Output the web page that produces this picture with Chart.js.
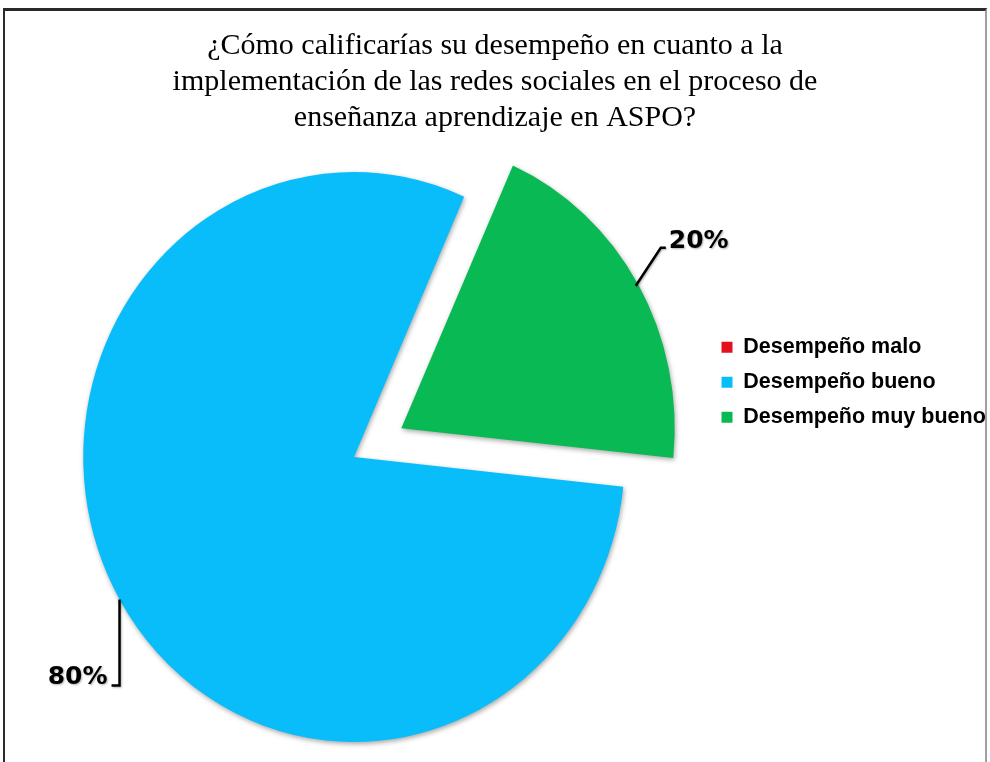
<!DOCTYPE html>
<html lang="es">
<head>
<meta charset="utf-8">
<title>Desempeño en redes sociales - ASPO</title>
<script src="https://cdn.jsdelivr.net/npm/chart.js@4.4.1/dist/chart.umd.min.js"></script>
<style>
  html, body { margin: 0; padding: 0; background: #fff; }
  #wrap { position: relative; width: 990px; height: 762px; overflow: hidden; }
  #grafico { position: absolute; left: 0; top: 0; }
  #marco {
    position: absolute; left: 3px; top: 8px; width: 984px; height: 800px;
    box-sizing: border-box; pointer-events: none;
    border: 2px solid #2a2a2a; border-top-width: 3px; border-right-color: #a0a0a0;
  }
</style>
</head>
<body>
<div id="wrap">
  <canvas id="grafico" width="990" height="762"></canvas>
  <div id="marco"></div>
</div>
<script>
// datos del gráfico
const categorias = ['Desempeño malo', 'Desempeño bueno', 'Desempeño muy bueno'];
const porcentajes = [0, 80, 20];
const colores = ['#E3111B', '#08BDF9', '#09B953'];
const tituloLineas = [
  '¿Cómo calificarías su desempeño en cuanto a la',
  'implementación de las redes sociales en el proceso de',
  'enseñanza aprendizaje en ASPO?'
];

// el pastel original es un poco más alto que ancho
const ASPECTO_X = 0.95;

// sombra suave y achatado horizontal del pastel
const sombra = {
  id: 'sombra',
  beforeDatasetsDraw(chart) {
    const ctx = chart.ctx;
    const arc = chart.getDatasetMeta(0).data[0];
    ctx.save();
    ctx.translate(arc.x, 0);
    ctx.scale(ASPECTO_X, 1);
    ctx.translate(-arc.x, 0);
    ctx.shadowColor = 'rgba(0,0,0,0.35)';
    ctx.shadowBlur = 5;
    ctx.shadowOffsetX = 1;
    ctx.shadowOffsetY = 2;
  },
  afterDatasetsDraw(chart) {
    chart.ctx.restore();
  }
};

// baja la leyenda a la altura del original
const posLeyenda = {
  id: 'posLeyenda',
  afterLayout(chart, args, opts) {
    if (chart.legend) chart.legend.top = opts.top;
  }
};

// etiquetas de porcentaje con línea guía
const etiquetas = {
  id: 'etiquetas',
  afterDatasetsDraw(chart, args, opts) {
    const ctx = chart.ctx;
    const ds = chart.data.datasets[0];
    const total = ds.data.reduce((a, b) => a + b, 0);
    chart.getDatasetMeta(0).data.forEach((arc, i) => {
      const valor = ds.data[i];
      if (!valor) return;
      const guia = opts.guias[i];
      const p = arc.getProps(['x', 'y', 'startAngle', 'endAngle', 'outerRadius'], true);
      const medio = (p.startAngle + p.endAngle) / 2;
      const desp = (ds.offset[i] || 0) / 4;
      const r = p.outerRadius + desp;
      const x0 = p.x + Math.cos(medio) * r * ASPECTO_X;
      const y0 = p.y + Math.sin(medio) * r;
      const x1 = x0 + guia.dx;
      const y1 = y0 + guia.dy;
      const x2 = x1 + guia.h;

      ctx.save();
      ctx.strokeStyle = '#000';
      ctx.lineWidth = 2.5;
      ctx.shadowColor = 'rgba(0,0,0,0.3)';
      ctx.shadowBlur = 2;
      ctx.shadowOffsetX = 1;
      ctx.shadowOffsetY = 1;
      ctx.beginPath();
      ctx.moveTo(x0, y0);
      ctx.lineTo(x1, y1);
      ctx.lineTo(x2, y1);
      ctx.stroke();

      ctx.fillStyle = '#000';
      ctx.font = 'bold 25px "DejaVu Sans", Verdana, sans-serif';
      ctx.textBaseline = 'middle';
      ctx.textAlign = guia.h >= 0 ? 'left' : 'right';
      const texto = Math.round(valor / total * 100) + '%';
      ctx.fillText(texto, x2 + (guia.h >= 0 ? 3 : -4), y1 + guia.ty);
      ctx.restore();
    });
  }
};

new Chart(document.getElementById('grafico'), {
  type: 'pie',
  data: {
    labels: categorias,
    datasets: [{
      data: porcentajes,
      backgroundColor: colores,
      borderWidth: 0,
      offset: [0, 0, 230]
    }]
  },
  options: {
    responsive: false,
    animation: false,
    rotation: 96,
    radius: 285,
    layout: { padding: { left: 0, right: 0, top: 0, bottom: 0 } },
    plugins: {
      title: {
        display: true,
        text: tituloLineas,
        color: '#000',
        font: { family: '"Liberation Serif", "Times New Roman", serif', size: 30, weight: 'normal', lineHeight: 1.2 },
        padding: { top: 28, bottom: 16 }
      },
      legend: {
        display: true,
        position: 'right',
        align: 'start',
        maxWidth: 282,
        labels: {
          boxWidth: 11,
          boxHeight: 11,
          padding: 13.5,
          color: '#000',
          font: { family: '"Liberation Sans", Arial, sans-serif', size: 21.5, weight: 'bold' }
        }
      },
      posLeyenda: { top: 323 },
      tooltip: { enabled: false },
      etiquetas: {
        guias: [
          null,
          { dx: 0, dy: 86, h: -8, ty: -8 },
          { dx: 25, dy: -38, h: 5, ty: -6 }
        ]
      }
    }
  },
  plugins: [posLeyenda, sombra, etiquetas]
});
</script>
</body>
</html>
